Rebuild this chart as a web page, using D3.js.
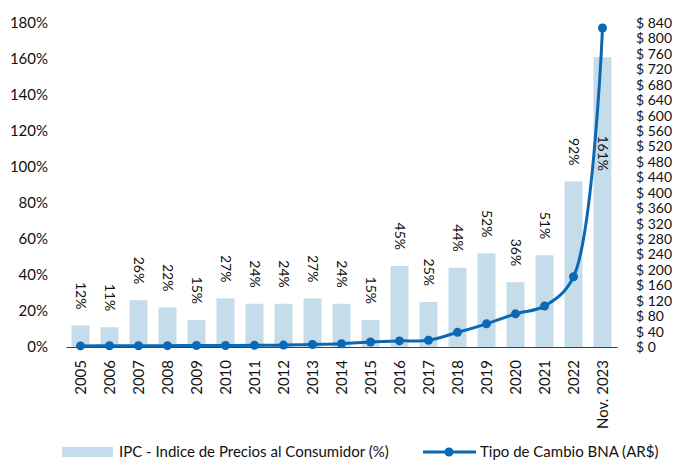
<!DOCTYPE html>
<html>
<head>
<meta charset="utf-8">
<script src="https://cdn.jsdelivr.net/npm/d3@7"></script>
<style>
  html, body { margin: 0; padding: 0; background: #fff; }
  svg { display: block; font-family: Lato, "Open Sans", sans-serif; }
</style>
</head>
<body>
<svg id="chart" width="686" height="465"></svg>
<script>
const categories = ["2005","2006","2007","2008","2009","2010","2011","2012","2013","2014","2015","2016","2017","2018","2019","2020","2021","2022","Nov. 2023"];
const ipcValues = [12,11,26,22,15,27,24,24,27,24,15,45,25,44,52,36,51,92,161];
const fxValues = [2.9,3.1,3.1,3.4,3.8,4.0,4.3,4.9,6.5,8.5,13.0,15.8,17.5,38,60,86,106,182,827];
const leftTicks = [0,20,40,60,80,100,120,140,160,180];
const rightTicks = d3.range(0, 841, 40);
const legendLabels = ["IPC - Indice de Precios al Consumidor (%)", "Tipo de Cambio BNA (AR$)"];

const svg = d3.select("#chart");
const margin = {left: 66, right: 69, top: 23, bottom: 118};
const W = 686, H = 465;
const x = d3.scaleBand().domain(categories).range([margin.left, W - margin.right]).paddingInner(0.38).paddingOuter(0.19);
const yL = d3.scaleLinear().domain([0, 180]).range([H - margin.bottom, margin.top]);
const yR = d3.scaleLinear().domain([0, 840]).range([H - margin.bottom, margin.top]);

const barColor = "#c5dcea";
const lineColor = "#0a69b4";
const textColor = "#111111";

// left axis labels
const leftAxis = d3.axisLeft(yL).tickValues(leftTicks).tickFormat(d => d + "%").tickSize(0).tickPadding(0);
const gl = svg.append("g").attr("transform", "translate(48,0)").call(leftAxis);
gl.select(".domain").remove();
gl.selectAll("text").attr("font-size", 15).attr("fill", textColor).attr("font-family", "Lato, sans-serif");

// right axis labels
const rightAxis = d3.axisRight(yR).tickValues(rightTicks).tickFormat(d => "$ " + d).tickSize(0).tickPadding(0);
const gr = svg.append("g").attr("transform", "translate(636,0)").call(rightAxis);
gr.select(".domain").remove();
gr.selectAll("text").attr("font-size", 14).attr("fill", textColor).attr("font-family", "Lato, sans-serif");

// bars
svg.append("g").selectAll("rect").data(ipcValues).join("rect")
  .attr("x", (d, i) => x(categories[i]))
  .attr("width", x.bandwidth())
  .attr("y", d => yL(d))
  .attr("height", d => yL(0) - yL(d))
  .attr("fill", barColor);

// x axis
const xAxis = d3.axisBottom(x).tickSize(0).tickPadding(0);
const gx = svg.append("g").attr("transform", `translate(0,${yL(0)})`).call(xAxis);
gx.select(".domain").attr("stroke", "#404040").attr("stroke-width", 1);
gx.selectAll("text")
  .attr("font-size", 15).attr("fill", textColor).attr("font-family", "Lato, sans-serif")
  .attr("text-anchor", "end").attr("dy", "0.35em")
  .attr("transform", "translate(0,13) rotate(-90)")
  .attr("x", 0).attr("y", 0);

// bar labels (rotated 90)
svg.append("g").selectAll("text").data(ipcValues).join("text")
  .attr("transform", (d, i) => {
    const cx = x(categories[i]) + x.bandwidth() / 2;
    const yEnd = d > 150 ? yL(90) - 14 : yL(d) - 16;
    return `translate(${cx},${yEnd}) rotate(90)`;
  })
  .attr("text-anchor", "end")
  .attr("dy", "0.35em")
  .attr("font-size", 14)
  .attr("fill", textColor)
  .text(d => d + "%");

// line
const pts = fxValues.map((v, i) => [x(categories[i]) + x.bandwidth() / 2, yR(v)]);
svg.append("path")
  .attr("d", d3.line().curve(d3.curveCatmullRom.alpha(0.5))(pts))
  .attr("fill", "none").attr("stroke", lineColor).attr("stroke-width", 3);
svg.append("g").selectAll("circle").data(pts).join("circle")
  .attr("cx", d => d[0]).attr("cy", d => d[1]).attr("r", 4.5).attr("fill", lineColor);

// legend
const lg = svg.append("g");
lg.append("rect").attr("x", 62).attr("y", 447).attr("width", 51).attr("height", 10).attr("fill", barColor);
lg.append("text").attr("x", 119).attr("y", 457).attr("font-size", 15).attr("fill", textColor).text(legendLabels[0]);
lg.append("line").attr("x1", 423).attr("x2", 476).attr("y1", 452).attr("y2", 452).attr("stroke", lineColor).attr("stroke-width", 3);
lg.append("circle").attr("cx", 449).attr("cy", 452).attr("r", 4.5).attr("fill", lineColor);
lg.append("text").attr("x", 480).attr("y", 457).attr("font-size", 15).attr("fill", textColor).text(legendLabels[1]);
</script>
</body>
</html>
